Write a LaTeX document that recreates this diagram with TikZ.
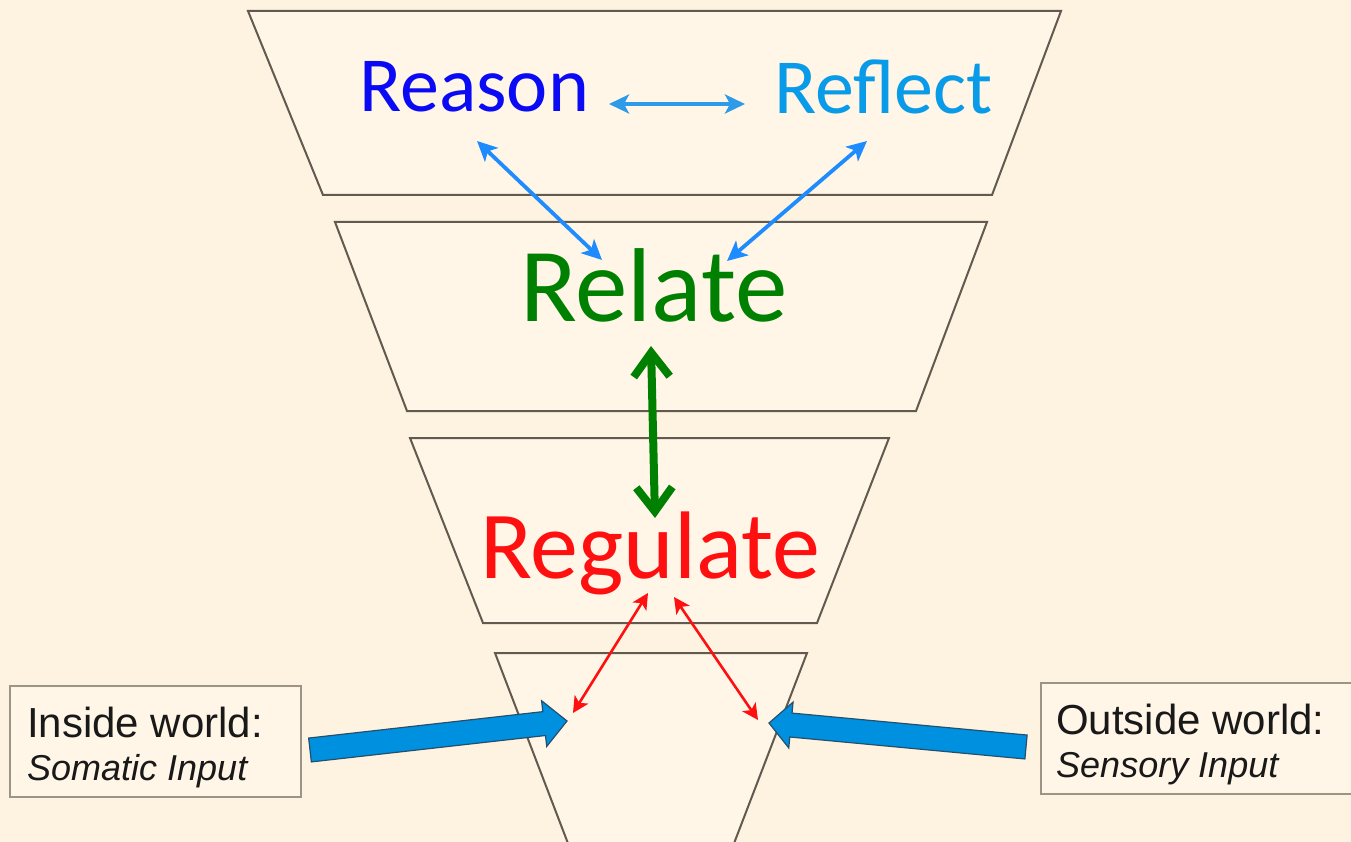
\documentclass[tikz,border=0pt]{standalone}
\usepackage{fontspec}
\setmainfont{Liberation Sans}
\newfontfamily\carl{Carlito}
\usetikzlibrary{arrows.meta,calc}
\definecolor{bgc}{HTML}{FEF3E0}
\definecolor{trapfill}{HTML}{FFF6E7}
\definecolor{edgec}{HTML}{625A50}
\definecolor{boxedge}{HTML}{9C9484}
\definecolor{reasonc}{HTML}{0A0AF5}
\definecolor{reflectc}{HTML}{0A9BE8}
\definecolor{relatec}{HTML}{008000}
\definecolor{regulatec}{HTML}{FF1010}
\definecolor{linkblue}{HTML}{1E8CFF}
\definecolor{linkblue2}{HTML}{2D9BE8}
\definecolor{blockfill}{HTML}{0090E0}
\definecolor{blockedge}{HTML}{24506E}
\tikzset{
  trap/.style={draw=edgec, fill=trapfill, line width=2pt, line join=miter},
  infobox/.style={draw=boxedge, fill=trapfill, line width=2.5pt, inner sep=0pt},
  bigword/.style={inner sep=0pt, anchor=base west},
  boxtext/.style={inner sep=0pt, anchor=base west, text=black!90},
  bluelink/.style={draw=linkblue, line width=3.8pt, {Stealth[length=20pt,width=19pt,inset=5pt]}-{Stealth[length=20pt,width=19pt,inset=5pt]}},
  redlink/.style={draw=regulatec, line width=2.6pt, {Stealth[length=16pt,width=16pt,inset=4pt]}-{Stealth[length=16pt,width=16pt,inset=4pt]}},
  greenlink/.style={draw=relatec, line width=8pt, {Straight Barb[length=24pt,width=36pt]}-{Straight Barb[length=24pt,width=36pt]}},
  blockarrow/.style={fill=blockfill, draw=blockedge, line width=1.2pt, line join=miter}
}
\begin{document}
\begin{tikzpicture}[x=1pt,y=-1pt]
\useasboundingbox (0,0) rectangle (1351,842);
\fill[bgc] (0,0) rectangle (1351,842);
\clip (0,0) rectangle (1351,842);

% trapezoids
\draw[trap] (248,11) -- (1061,11) -- (992,195) -- (323,195) -- cycle;
\draw[trap] (335,222) -- (987,222) -- (916,411) -- (407,411) -- cycle;
\draw[trap] (410,438) -- (889,438) -- (817,623) -- (483,623) -- cycle;
\draw[trap] (495,653) -- (807,653) -- (733,846) -- (569,846) -- cycle;

% labels
\node[bigword, text=reasonc] (reason) at (359,112) {\carl\fontsize{78}{78}\selectfont Reason};
\node[bigword, text=reflectc] (reflect) at (774,114) {\carl\fontsize{78}{78}\selectfont Reflect};
\node[bigword, text=relatec] (relate) at (520,321) {\carl\fontsize{105}{105}\selectfont Relate};
\node[bigword, text=regulatec] (regulate) at (480,578) {\carl\fontsize{96}{96}\selectfont Regulate};

% boxes
\node[infobox, minimum width=291pt, minimum height=111pt] (ibox) at (155.5,741.5) {};
\node[boxtext] (itxt1) at (27,737) {\fontsize{42}{42}\selectfont Inside world:};
\node[boxtext] (itxt2) at (27,780) {\fontsize{36}{36}\selectfont\itshape Somatic Input};
\node[infobox, minimum width=330pt, minimum height=111pt] (obox) at (1206,738.5) {};
\node[boxtext] (otxt1) at (1056,734) {\fontsize{42}{42}\selectfont Outside world:};
\node[boxtext] (otxt2) at (1056,777) {\fontsize{36}{36}\selectfont\itshape Sensory Input};

% connector end points
\coordinate (rrA) at (609,104);
\coordinate (rrB) at (745,104);
\coordinate (reasonUp) at (477,141);
\coordinate (reasonDn) at (602,260);
\coordinate (reflectUp) at (867,141);
\coordinate (reflectDn) at (727,261);
\coordinate (greenUp) at (651,346);
\coordinate (greenDn) at (655,518);
\coordinate (redLUp) at (648,593);
\coordinate (redLDn) at (573,713);
\coordinate (redRUp) at (674,597);
\coordinate (redRDn) at (758,720);

\draw[bluelink, draw=linkblue2] (rrA) -- (rrB);
\draw[bluelink] (reasonUp) -- (reasonDn);
\draw[bluelink] (reflectUp) -- (reflectDn);
\draw[greenlink] (greenUp) -- (greenDn);
\draw[redlink] (redLUp) -- (redLDn);
\draw[redlink] (redRUp) -- (redRDn);

% block arrows
\coordinate (it) at (310,750);
\coordinate (ih) at (567,721);
\coordinate (ihb) at ($(ih)!23pt!(it)$);
\draw[blockarrow] ($(it)!12pt!90:(ih)$) -- ($(ihb)!12pt!-90:(it)$) -- ($(ihb)!23pt!-90:(it)$) -- (ih)
  -- ($(ihb)!23pt!90:(it)$) -- ($(ihb)!12pt!90:(it)$) -- ($(it)!12pt!-90:(ih)$) -- cycle;

\coordinate (ot) at (1026,747);
\coordinate (oh) at (769,723);
\coordinate (ohb) at ($(oh)!22pt!(ot)$);
\draw[blockarrow] ($(ot)!12pt!90:(oh)$) -- ($(ohb)!12pt!-90:(ot)$) -- ($(ohb)!23pt!-90:(ot)$) -- (oh)
  -- ($(ohb)!23pt!90:(ot)$) -- ($(ohb)!12pt!90:(ot)$) -- ($(ot)!12pt!-90:(oh)$) -- cycle;
\end{tikzpicture}
\end{document}
